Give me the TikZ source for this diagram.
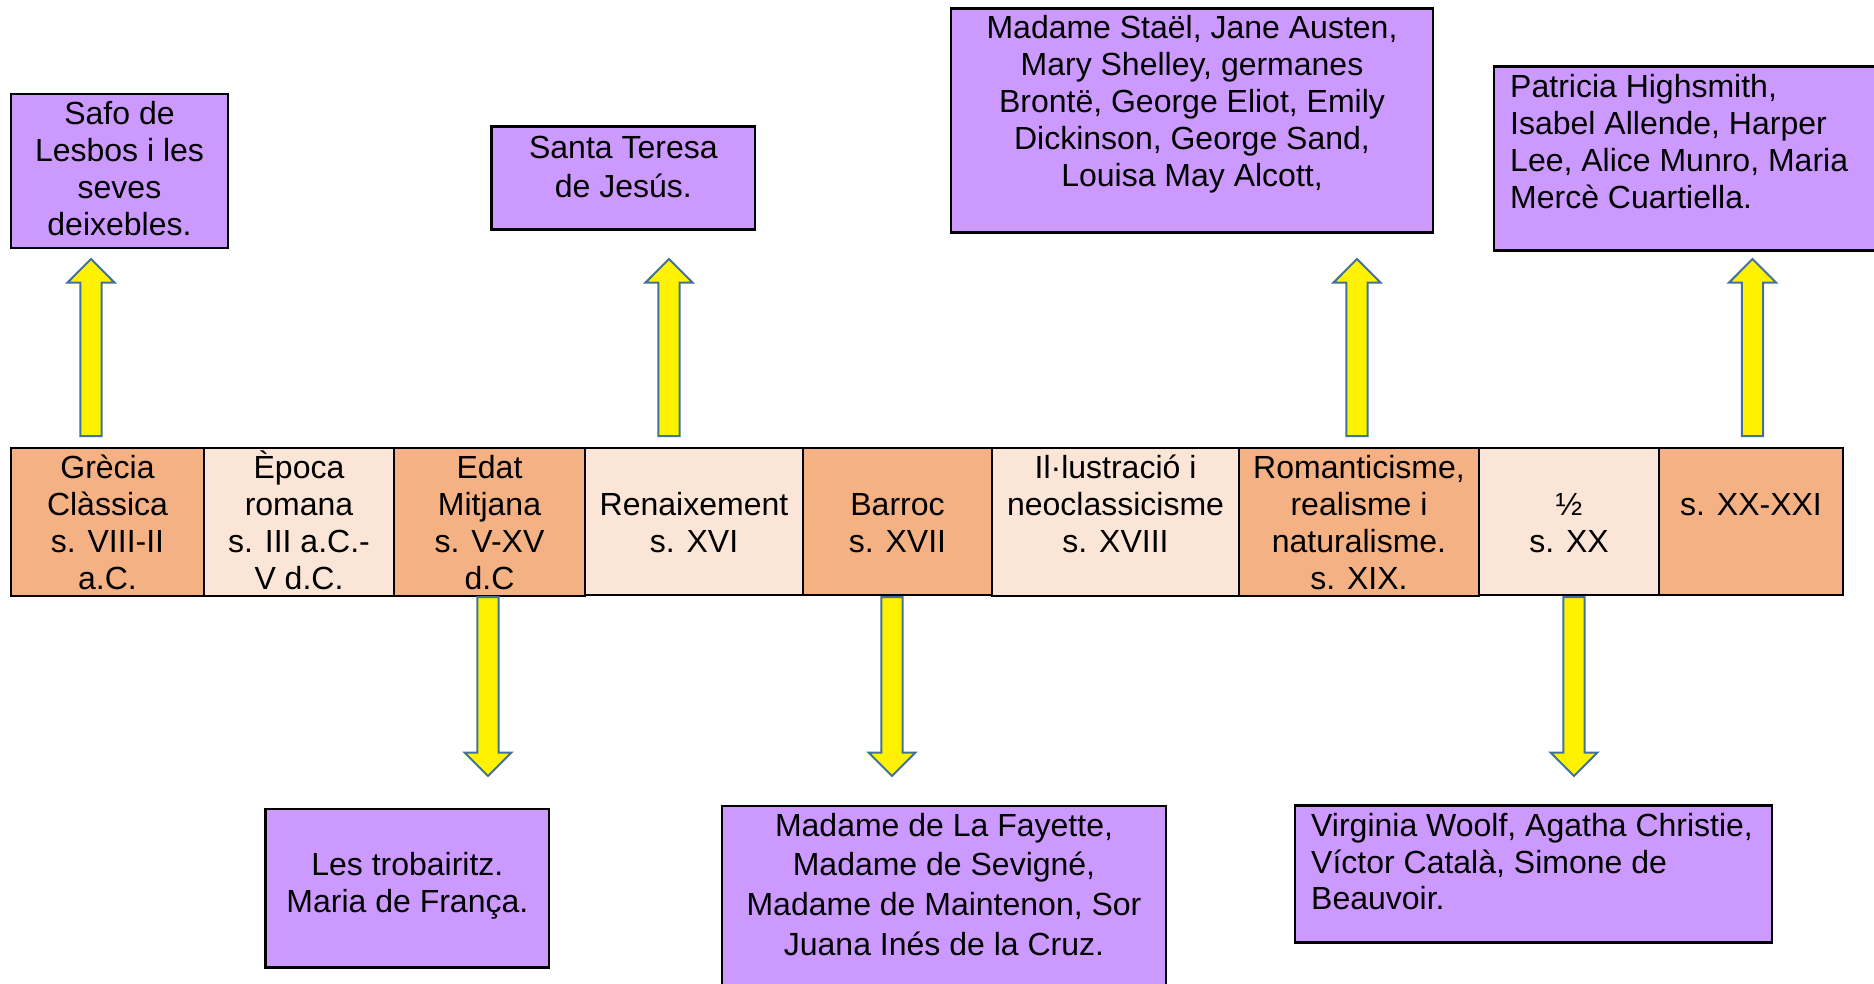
\documentclass[tikz,border=0pt]{standalone}
\usepackage{fontspec}
\setmainfont{Liberation Sans}
\usetikzlibrary{positioning,calc}

\definecolor{boxpurple}{RGB}{204,153,255}
\definecolor{celldark}{RGB}{244,177,131}
\definecolor{celllight}{RGB}{251,229,214}
\definecolor{arrowblue}{RGB}{65,113,156}

\newcommand{\boxfont}[1]{\fontsize{32}{#1}\selectfont}
\newcommand{\topline}{\rule{0pt}{30pt}}
\newcommand{\cs}{\rule[-6.5pt]{0pt}{36.5pt}}

\tikzset{
  cell/.style={draw, line width=2pt, minimum height=147pt, inner sep=0pt, outer sep=0pt, align=center, font=\boxfont{37}},
  pbox/.style={draw, line width=2.5pt, fill=boxpurple, anchor=north west, inner sep=0pt, outer sep=0pt},
  ptext/.style={anchor=north, inner sep=0pt, align=center},
  yarrow/.style={draw=arrowblue, line width=2pt, fill=yellow},
}

% vertical block arrow from #1 to #2
\newcommand{\blockarrow}[2]{%
  \draw[yarrow] let \p1=(#1), \p2=(#2), \n1={23.5*sign(\y1-\y2)} in
    (\x1-10.7pt,\y1) -- (\x1-10.7pt,{\y2+(\n1)*1pt}) -- (\x1-23.4pt,{\y2+(\n1)*1pt})
    -- (\x2,\y2) -- (\x1+23.4pt,{\y2+(\n1)*1pt}) -- (\x1+10.7pt,{\y2+(\n1)*1pt})
    -- (\x1+10.7pt,\y1) -- cycle;}

\begin{document}
\begin{tikzpicture}[x=1pt, y=-1pt]

    \useasboundingbox (0,0) rectangle (1874,983);
    \clip (0,0) rectangle (1874,983);

    % time line
    \node[cell, fill=celldark, minimum width=193pt, anchor=north west] (grecia) at (11,448) {\cs Grècia\\Clàssica\\s. VIII-II\\a.C.\cs};
    \node[cell, fill=celllight, minimum width=190pt, right=0pt of grecia] (epoca) {\cs Època\\romana\\s. III a.C.-\\V d.C.\cs};
    \node[cell, fill=celldark, minimum width=191pt, right=0pt of epoca] (edat) {\cs Edat\\Mitjana\\s. V-XV\\d.C\cs};
    \node[cell, fill=celllight, minimum width=218pt, right=0pt of edat] (renaix) {\cs Renaixement\\s. XVI\cs};
    \node[cell, fill=celldark, minimum width=189pt, right=0pt of renaix] (barroc) {\cs Barroc\\s. XVII\cs};
    \node[cell, fill=celllight, minimum width=247pt, right=0pt of barroc] (illus) {\cs Il·lustració i\\neoclassicisme\\s. XVIII\\\cs};
    \node[cell, fill=celldark, minimum width=240pt, right=0pt of illus] (romant) {\cs Romanticisme,\\realisme i\\naturalisme.\\s. XIX.\cs};
    \node[cell, fill=celllight, minimum width=180pt, right=0pt of romant] (mitjan) {\cs ½\\s. XX\cs};
    \node[cell, fill=celldark, minimum width=184pt, right=0pt of mitjan] (segxx) {\cs s. XX-XXI\\\cs};

    % boxes above
    \node[pbox, minimum width=217pt, minimum height=154pt] (safo) at (11,94) {};
    \node[ptext, font=\boxfont{37}] (safotxt) at ([yshift=-0.3pt]safo.north) {\topline Safo de\\Lesbos i les\\seves\\deixebles.};

    \node[pbox, minimum width=263.3pt, minimum height=102.6pt] (teresa) at (491.7,126.7) {};
    \node[ptext, font=\boxfont{39.5}] (teresatxt) at ([yshift=-1.2pt]teresa.north) {\topline Santa Teresa\\de Jesús.};

    \node[pbox, minimum width=482pt, minimum height=224.4pt] (stael) at (951,8.3) {};
    \node[ptext, font=\boxfont{37}] (staeltxt) at ([yshift=0.2pt]stael.north) {\topline Madame Staël, Jane Austen,\\Mary Shelley, germanes\\Brontë, George Eliot, Emily\\Dickinson, George Sand,\\Louisa May Alcott,};

    \node[pbox, minimum width=406pt, minimum height=184pt] (patricia) at (1494,66.7) {};
    \node[ptext, anchor=north west, align=left, font=\boxfont{37}] (pattxt) at ([xshift=16pt,yshift=-0.6pt]patricia.north west) {\topline Patricia Highsmith,\\Isabel Allende, Harper\\Lee, Alice Munro, Maria\\Mercè Cuartiella.};

    % boxes below
    \node[pbox, minimum width=283.3pt, minimum height=158.7pt] (trob) at (265.7,809) {};
    \node[ptext, font=\boxfont{37}] (trobtxt) at ([yshift=-36pt]trob.north) {\topline Les trobairitz.\\Maria de França.};

    \node[pbox, minimum width=444pt, minimum height=204pt] (fayette) at (722,806) {};
    \node[ptext, font=\boxfont{39.8}] (fayettetxt) at ([yshift=0.2pt]fayette.north) {\topline Madame de La Fayette,\\Madame de Sevigné,\\Madame de Maintenon, Sor\\Juana Inés de la Cruz.};

    \node[pbox, minimum width=477pt, minimum height=137pt] (virginia) at (1295,805.7) {};
    \node[ptext, anchor=north west, align=left, font=\boxfont{36.5}] (virgtxt) at ([xshift=16pt,yshift=-0.6pt]virginia.north west) {\topline Virginia Woolf, Agatha Christie,\\Víctor Català, Simone de\\Beauvoir.};

    % arrows up
    \coordinate (safoA) at (91,436);
    \coordinate (safoB) at (91,259);
    \coordinate (teresaA) at (669,436);
    \coordinate (teresaB) at (669,259);
    \coordinate (staelA) at (1357,436);
    \coordinate (staelB) at (1357,259);
    \coordinate (patA) at (1752.5,436);
    \coordinate (patB) at (1752.5,259);
    \blockarrow{safoA}{safoB}
    \blockarrow{teresaA}{teresaB}
    \blockarrow{staelA}{staelB}
    \blockarrow{patA}{patB}

    % arrows down
    \coordinate (edatA) at (488,597);
    \coordinate (edatB) at (488,776);
    \coordinate (barrocA) at (892,597);
    \coordinate (barrocB) at (892,776);
    \coordinate (mitjanA) at (1574,597);
    \coordinate (mitjanB) at (1574,776);
    \blockarrow{edatA}{edatB}
    \blockarrow{barrocA}{barrocB}
    \blockarrow{mitjanA}{mitjanB}

\end{tikzpicture}
\end{document}
